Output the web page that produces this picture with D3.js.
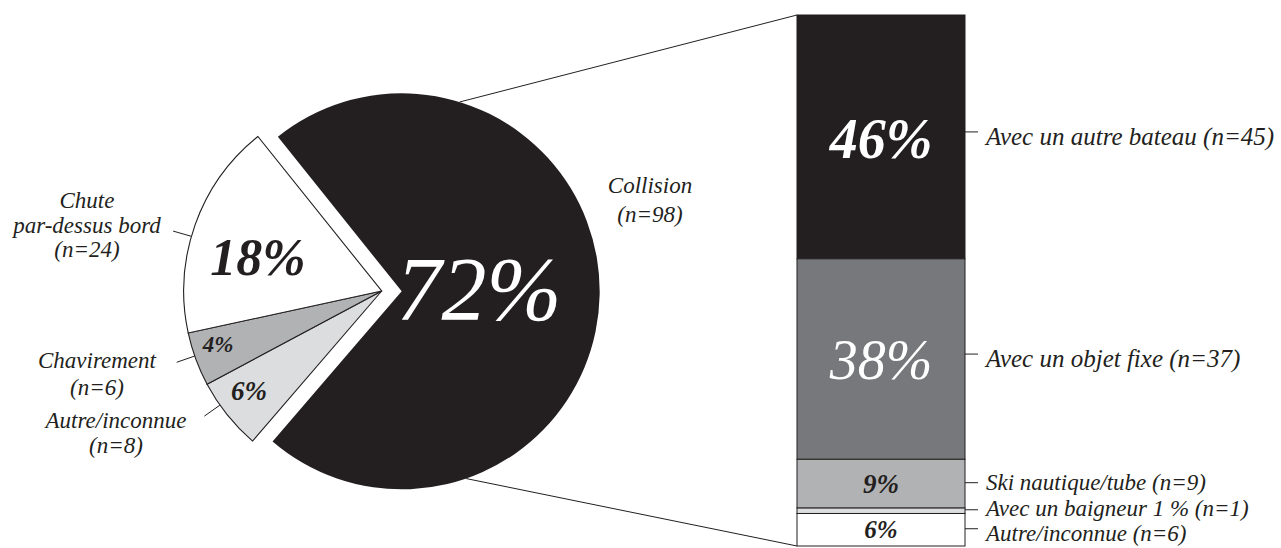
<!DOCTYPE html>
<html>
<head>
<meta charset="utf-8">
<script src="https://cdn.jsdelivr.net/npm/d3@7"></script>
<style>
  body { margin: 0; background: #fff; }
  svg { display: block; }
  text { font-family: "Liberation Serif", "DejaVu Serif", serif; font-style: italic; }
</style>
</head>
<body>
<svg id="chart" width="1281" height="548"></svg>
<script>
// ---- Data ----
const pieCategories = ["Collision", "Autre/inconnue", "Chavirement", "Chute par-dessus bord"];
const pieCounts = [98, 8, 6, 24];
const piePercentLabels = ["72%", "6%", "4%", "18%"];
const pieLabelLines = [
  ["Collision", "(n=98)"],
  ["Autre/inconnue", "(n=8)"],
  ["Chavirement", "(n=6)"],
  ["Chute", "par-dessus bord", "(n=24)"]
];

const barCategories = ["Avec un autre bateau", "Avec un objet fixe", "Ski nautique/tube", "Avec un baigneur", "Autre/inconnue"];
const barCounts = [45, 37, 9, 1, 6];
const barPercentLabels = ["46%", "38%", "9%", "", "6%"];
const barLabels = [
  "Avec un autre bateau (n=45)",
  "Avec un objet fixe (n=37)",
  "Ski nautique/tube (n=9)",
  "Avec un baigneur 1 % (n=1)",
  "Autre/inconnue (n=6)"
];

// ---- Styles ----
const ink = "#231f20";
const pieColors = [ink, "#dcdddf", "#b1b2b4", "#ffffff"];
const barColors = [ink, "#77787b", "#b1b2b4", "#dcdddf", "#ffffff"];

const svg = d3.select("#chart");

// ---- Pie ----
const cx = 381.7, cy = 291, R = 198;
const deg = Math.PI / 180;
const total = d3.sum(pieCounts);
const collisionSpan = pieCounts[0] / total * 2 * Math.PI;
const startA = 91 * deg - collisionSpan / 2;

const pie = d3.pie().sort(null).value(d => d).startAngle(startA).endAngle(startA + 2 * Math.PI);
const arcs = pie(pieCounts);
const arc = d3.arc().innerRadius(0).outerRadius(R);
const explode = 20;

function polar(a, r) { return [Math.sin(a) * r, -Math.cos(a) * r]; }

const pieG = svg.append("g").attr("transform", `translate(${cx},${cy})`);

arcs.forEach((d, i) => {
  const mid = (d.startAngle + d.endAngle) / 2;
  const off = i === 0 ? polar(mid, explode) : [0, 0];
  pieG.append("path")
    .attr("d", arc(d))
    .attr("transform", `translate(${off[0]},${off[1]})`)
    .attr("fill", pieColors[i])
    .attr("stroke", ink)
    .attr("stroke-width", i === 0 ? 0 : 1.1)
    .attr("stroke-linejoin", "miter");
});

const colMid = (arcs[0].startAngle + arcs[0].endAngle) / 2;
const colOff = polar(colMid, explode);

// ---- Bar ----
const barX0 = 797, barX1 = 965;
const y = d3.scaleLinear().domain([0, d3.sum(barCounts)]).range([15, 546]);
const cum = [];
barCounts.reduce((acc, v, i) => { cum.push([acc, acc + v]); return acc + v; }, 0);

// Connector lines from collision slice to bar
const topPt = polar(17 * deg, R);
const botPt = polar(161 * deg, R);
svg.append("line")
  .attr("x1", cx + colOff[0] + topPt[0]).attr("y1", cy + colOff[1] + topPt[1])
  .attr("x2", barX0).attr("y2", y(0))
  .attr("stroke", ink).attr("stroke-width", 1);
svg.append("line")
  .attr("x1", cx + colOff[0] + botPt[0]).attr("y1", cy + colOff[1] + botPt[1])
  .attr("x2", barX0).attr("y2", y(d3.sum(barCounts)))
  .attr("stroke", ink).attr("stroke-width", 1);

const barG = svg.append("g");
barCounts.forEach((v, i) => {
  barG.append("rect")
    .attr("x", barX0).attr("y", y(cum[i][0]))
    .attr("width", barX1 - barX0).attr("height", y(cum[i][1]) - y(cum[i][0]))
    .attr("fill", barColors[i])
    .attr("stroke", ink).attr("stroke-width", 1);
});

// Bar percent labels
const barPctStyle = [
  { size: 56, weight: "bold", fill: "#fff", dy: 21 },
  { size: 56, weight: "normal", fill: "#fff", dy: 20 },
  { size: 27, weight: "bold", fill: ink, dy: 9 },
  { size: 0, weight: "bold", fill: ink, dy: 0 },
  { size: 25, weight: "bold", fill: ink, dy: 8 }
];
barCounts.forEach((v, i) => {
  if (!barPercentLabels[i]) return;
  const ym = (y(cum[i][0]) + y(cum[i][1])) / 2;
  barG.append("text")
    .attr("x", (barX0 + barX1) / 2).attr("y", ym + barPctStyle[i].dy)
    .attr("text-anchor", "middle")
    .attr("font-size", barPctStyle[i].size)
    .attr("font-weight", barPctStyle[i].weight)
    .attr("fill", barPctStyle[i].fill)
    .text(barPercentLabels[i]);
});

// Bar side labels with ticks
const barLabelStyle = [
  { size: 25, dy: 13 },
  { size: 25, dy: 13 },
  { size: 23, dy: 7 },
  { size: 23, dy: 6 },
  { size: 23, dy: 12 }
];
barCounts.forEach((v, i) => {
  const ym = (y(cum[i][0]) + y(cum[i][1])) / 2 - (i < 2 ? 5 : 1);
  barG.append("line")
    .attr("x1", barX1).attr("x2", barX1 + 13)
    .attr("y1", ym).attr("y2", ym)
    .attr("stroke", ink).attr("stroke-width", 1);
  barG.append("text")
    .attr("x", barX1 + 21).attr("y", ym + barLabelStyle[i].dy)
    .attr("font-size", barLabelStyle[i].size)
    .attr("fill", ink)
    .text(barLabels[i]);
});

// ---- Pie percent labels ----
const piePctLayout = [
  { x: 479, y: 320, size: 90, weight: "normal", fill: "#fff" },
  { x: 249, y: 400, size: 27, weight: "bold", fill: ink },
  { x: 218, y: 352, size: 23, weight: "bold", fill: ink },
  { x: 258, y: 275, size: 52, weight: "bold", fill: ink }
];
piePercentLabels.forEach((t, i) => {
  const L = piePctLayout[i];
  svg.append("text")
    .attr("x", L.x).attr("y", L.y)
    .attr("text-anchor", "middle")
    .attr("font-size", L.size)
    .attr("font-weight", L.weight)
    .attr("fill", L.fill)
    .text(t);
});

// ---- Pie category labels ----
const pieLabelLayout = [
  { x: 650, y: 193, lh: 29, leader: false, da: 0 },
  { x: 116, y: 428, lh: 25, leader: true, da: 3.5 },
  { x: 97, y: 368, lh: 27, leader: true, da: 1 },
  { x: 87, y: 208, lh: 24.5, leader: true, da: -3.5 }
];
arcs.forEach((d, i) => {
  const L = pieLabelLayout[i];
  const t = svg.append("text")
    .attr("text-anchor", "middle")
    .attr("font-size", 23)
    .attr("fill", ink);
  pieLabelLines[i].forEach((line, k) => {
    t.append("tspan").attr("x", L.x).attr("y", L.y + k * L.lh).text(line);
  });
  if (L.leader) {
    const mid = (d.startAngle + d.endAngle) / 2 + L.da * deg;
    const p1 = polar(mid, R), p2 = polar(mid, R + 19);
    svg.append("line")
      .attr("x1", cx + p1[0]).attr("y1", cy + p1[1])
      .attr("x2", cx + p2[0]).attr("y2", cy + p2[1])
      .attr("stroke", ink).attr("stroke-width", 1);
  }
});
</script>
</body>
</html>
